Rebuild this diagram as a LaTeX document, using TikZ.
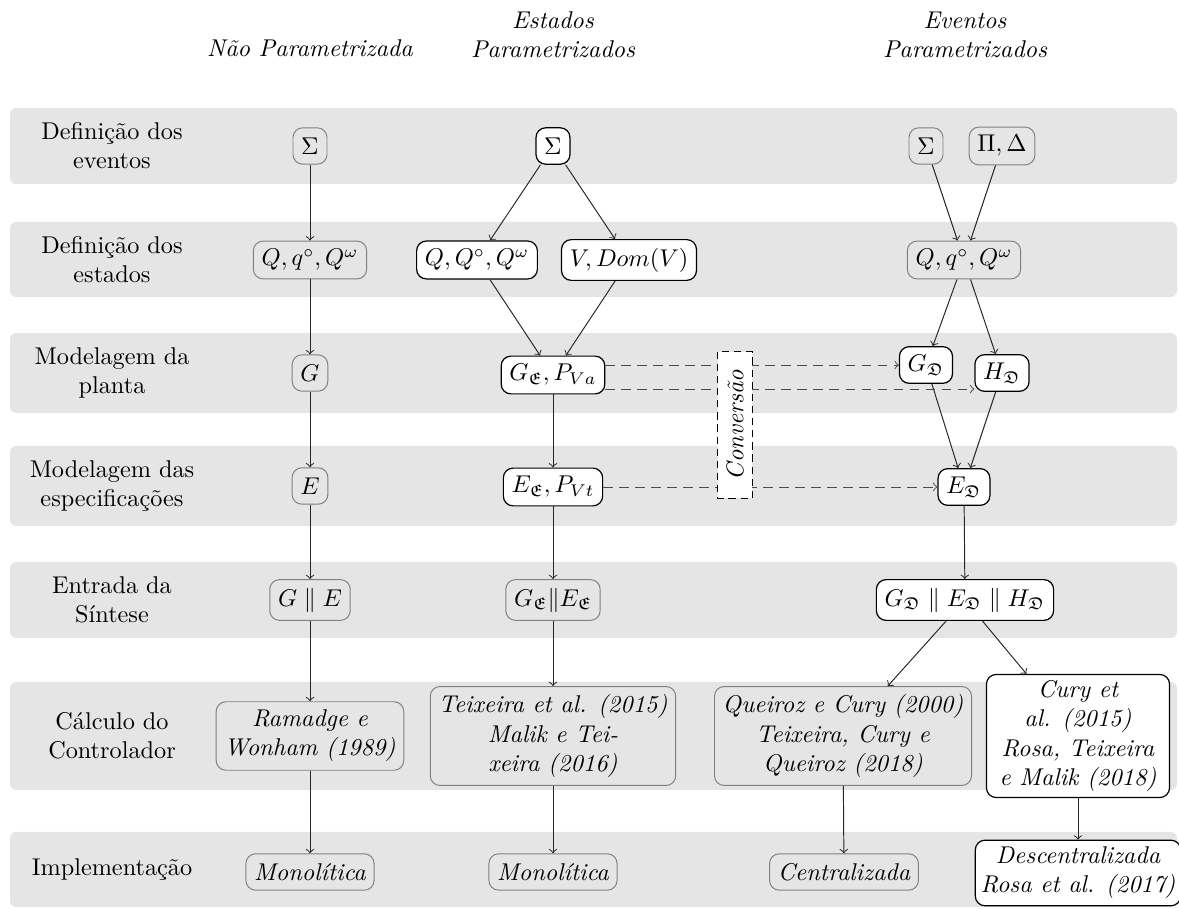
\documentclass[tikz,border=0pt]{standalone}
\usepackage{amssymb}
\usetikzlibrary{calc}

\begin{document}
\begin{tikzpicture}[
  x=0.41237pt, y=-0.41237pt,
  band/.style={fill=gray!20, rounded corners=2.5pt},
  gbox/.style={draw=gray, fill=gray!20, rounded corners=4pt, minimum height=15pt, inner sep=3.4pt},
  wbox/.style={draw=black, fill=white, rounded corners=4pt, minimum height=15pt, inner sep=3.4pt, line width=0.5pt},
  refs/.style={font=\itshape, align=center},
  rowlab/.style={align=center},
  head/.style={font=\itshape, align=center},
  arr/.style={->, draw=black!85},
  dasharr/.style={->, draw=black!70, dash pattern=on 4pt off 2.6pt},
]
\useasboundingbox (0,0) rectangle (1179,909);

% horizontal stage bands
\fill[band] (10,108) rectangle (1177,184);
\fill[band] (10,222) rectangle (1177,297);
\fill[band] (10,333) rectangle (1177,413);
\fill[band] (10,446) rectangle (1177,526);
\fill[band] (10,562) rectangle (1177,638);
\fill[band] (10,682) rectangle (1177,790);
\fill[band] (10,832) rectangle (1177,907);

% column headers
\node[head] (h1) at (310,48) {Não Parametrizada};
\node[head] (h2) at (553,35) {Estados\\Parametrizados};
\node[head] (h3) at (965,35) {Eventos\\Parametrizados};

% stage labels
\node[rowlab] (r1) at (112,146) {Definição dos\\eventos};
\node[rowlab] (r2) at (112,260) {Definição dos\\estados};
\node[rowlab] (r3) at (112,373) {Modelagem da\\planta};
\node[rowlab] (r4) at (112,486) {Modelagem das\\especificações};
\node[rowlab] (r5) at (112,600) {Entrada da\\Síntese};
\node[rowlab] (r6) at (112,736) {Cálculo do\\Controlador};
\node[rowlab] (r7) at (112,870) {Implementação};

% column 1: non-parametrized
\node[gbox] (a1) at (310,146) {$\Sigma$};
\node[gbox] (a2) at (310,260) {$Q, q^{\circ}, Q^{\omega}$};
\node[gbox] (a3) at (310,373) {$G$};
\node[gbox] (a4) at (310,486) {$E$};
\node[gbox] (a5) at (310,600) {$G \parallel E$};
\node[gbox, refs, minimum width=76pt] (a6) at (310,736) {Ramadge e\\Wonham (1989)};
\node[gbox, refs] (a7) at (310,872) {Monolítica};

\draw[arr] (a1) -- (a2);
\draw[arr] (a2) -- (a3);
\draw[arr] (a3) -- (a4);
\draw[arr] (a4) -- (a5);
\draw[arr] (a5) -- (a6);
\draw[arr] (a6) -- (a7);

% column 2: parametrized states
\node[wbox] (b1) at (553,146) {$\Sigma$};
\node[wbox] (b2) at (477,260) {$Q, Q^{\circ}, Q^{\omega}$};
\node[wbox] (b3) at (629,260) {$V, Dom(V)$};
\node[wbox] (b4) at (553,375) {$G_{\mathfrak{E}}, P_{Va}$};
\node[wbox] (b5) at (553,487) {$E_{\mathfrak{E}}, P_{Vt}$};
\node[gbox] (b6) at (553,600) {$G_{\mathfrak{E}} \| E_{\mathfrak{E}}$};
\node[gbox, refs, minimum width=100pt] (b7) at (553,736) {Teixeira et al. (2015)\\Malik e Tei-\\xeira (2016)};
\node[gbox, refs] (b8) at (553,872) {Monolítica};

\draw[arr] (b1) -- (b2);
\draw[arr] (b1) -- (b3);
\draw[arr] (b2) -- (b4);
\draw[arr] (b3) -- (b4);
\draw[arr] (b4) -- (b5);
\draw[arr] (b5) -- (b6);
\draw[arr] (b6) -- (b7);
\draw[arr] (b7) -- (b8);

% column 3: parametrized events
\node[gbox] (c1) at (926,146) {$\Sigma$};
\node[gbox] (c2) at (1002,146) {$\Pi, \Delta$};
\node[gbox] (c3) at (964,260) {$Q, q^{\circ}, Q^{\omega}$};
\node[wbox] (c4) at (926,365) {$G_{\mathfrak{D}}$};
\node[wbox] (c5) at (1002,373) {$H_{\mathfrak{D}}$};
\node[wbox] (c6) at (964,487) {$E_{\mathfrak{D}}$};
\node[wbox] (c7) at (965,600) {$G_{\mathfrak{D}} \parallel E_{\mathfrak{D}} \parallel H_{\mathfrak{D}}$};
\node[gbox, refs, minimum width=103.5pt] (c8) at (843,736) {Queiroz e Cury (2000)\\Teixeira, Cury e\\Queiroz (2018)};
\node[wbox, refs, minimum width=75.5pt, inner ysep=2.6pt] (c9) at (1078,736) {Cury et\\al. (2015)\\Rosa, Teixeira\\e Malik (2018)};
\node[gbox, refs] (c10) at (844,872) {Centralizada};
\node[wbox, refs, inner xsep=2.2pt, inner ysep=2.8pt] (c11) at (1078,873) {Descentralizada\\Rosa et al. (2017)};

\draw[arr] (c1) -- (c3);
\draw[arr] (c2) -- (c3);
\draw[arr] (c3) -- (c4);
\draw[arr] (c3) -- (c5);
\draw[arr] (c4) -- (c6);
\draw[arr] (c5) -- (c6);
\draw[arr] (c6) -- (c7);
\draw[arr] (c7) -- (c8);
\draw[arr] (c7) -- (c9);
\draw[arr] (c8) -- (c10);
\draw[arr] (c9) -- (c11);

% conversion between the two parametrized approaches
\coordinate (d1) at ([yshift=4.1pt]b4.east);
\coordinate (d2) at ([yshift=-5.8pt]b4.east);
\draw[dasharr] (d1) -- (d1 -| c4.west);
\draw[dasharr] (d2) -- (d2 -| c5.west);
\draw[dasharr] (b5) -- (c6);

\node[draw=black, fill=white, dash pattern=on 3pt off 2pt, rotate=90,
      minimum width=60.5pt, minimum height=14.4pt, inner sep=1pt, font=\itshape]
      (conv) at (735,425) {Conversão};
\end{tikzpicture}
\end{document}
